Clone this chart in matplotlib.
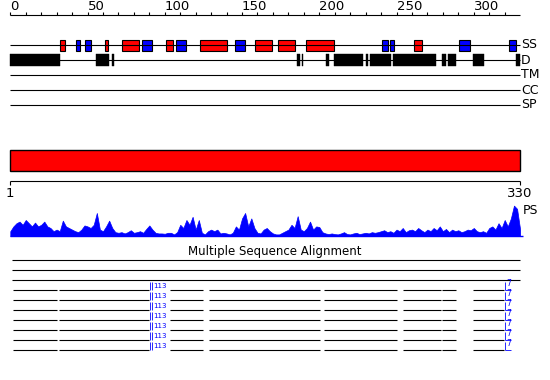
import numpy as np
import matplotlib
matplotlib.use('Agg')
import matplotlib.pyplot as plt
from matplotlib.patches import Rectangle

# sequence / ruler
seq_len = 330
ruler_ticks = list(range(0, 330, 10))
ruler_labels = [0, 50, 100, 150, 200, 250, 300]
track_names = ['SS', 'D', 'TM', 'CC', 'SP']

# secondary structure (residue ranges)
helix_start = [32, 61, 72, 101, 123, 158.5, 173.5, 191.5, 261.5]
helix_end = [35.5, 63, 83, 105.5, 140, 169.5, 184.5, 209.5, 266.5]
strand_start = [42.7, 48.5, 85.5, 107.5, 145.5, 240.8, 245.8, 290.2, 323]
strand_end = [45, 52, 92, 114, 151.7, 244.3, 248.2, 297.5, 327]

# disorder (residue ranges)
dis_start = [0, 55.7, 66, 185.6, 188.6, 204.3, 209.7, 230, 232.8, 247.9, 279.4, 283.5, 299.7, 327]
dis_end = [32, 63.7, 67, 187.5, 189.6, 206, 228.5, 231.3, 246.4, 275.3, 282, 288.3, 306.6, 330]

# PS profile (score 0-1, every 2 residues)
ps_residues = list(range(0, 331, 2))
ps_scores = [0.15, 0.3, 0.4, 0.45, 0.35, 0.5, 0.4, 0.3, 0.42, 0.3,
             0.35, 0.45, 0.3, 0.25, 0.15, 0.2, 0.15, 0.48, 0.3, 0.25,
             0.2, 0.15, 0.12, 0.2, 0.33, 0.3, 0.25, 0.35, 0.72, 0.2,
             0.15, 0.3, 0.48, 0.25, 0.12, 0.1, 0.12, 0.08, 0.12, 0.18,
             0.1, 0.12, 0.15, 0.1, 0.22, 0.33, 0.2, 0.1, 0.08, 0.08,
             0.07, 0.1, 0.1, 0.05, 0.12, 0.35, 0.25, 0.5, 0.35, 0.6,
             0.2, 0.5, 0.1, 0.05, 0.15, 0.2, 0.15, 0.2, 0.08, 0.1,
             0.08, 0.05, 0.1, 0.3, 0.2, 0.55, 0.72, 0.3, 0.55, 0.25,
             0.1, 0.08, 0.2, 0.25, 0.15, 0.08, 0.05, 0.05, 0.1, 0.15,
             0.2, 0.35, 0.25, 0.62, 0.2, 0.15, 0.25, 0.45, 0.2, 0.3,
             0.28, 0.12, 0.08, 0.06, 0.08, 0.06, 0.05, 0.08, 0.12, 0.06,
             0.05, 0.08, 0.1, 0.06, 0.08, 0.1, 0.08, 0.12, 0.1, 0.12,
             0.15, 0.18, 0.12, 0.15, 0.1, 0.2, 0.15, 0.25, 0.12, 0.18,
             0.2, 0.15, 0.25, 0.18, 0.12, 0.2, 0.15, 0.25, 0.18, 0.3,
             0.15, 0.22, 0.12, 0.2, 0.15, 0.18, 0.12, 0.15, 0.2, 0.18,
             0.25, 0.15, 0.12, 0.15, 0.1, 0.25, 0.3, 0.2, 0.4, 0.25,
             0.5, 0.3, 0.55, 0.95, 0.85, 0.2]

# multiple sequence alignment segments
msa_seg_start = [1.5, 31.7, 103.4, 128.8, 203, 254, 279.7, 299.7]
msa_seg_end = [30, 90, 125, 200.5, 250, 278.8, 288.8, 319.6]
msa_rows = 7
insert_pos = [90.5, 320.2]
insert_labels = ['113', '7']

px0 = 10.3
ppr = 1.545  # pixels per residue

fig = plt.figure(figsize=(5.5, 3.8), dpi=100)
ax = fig.add_axes([0, 0, 1, 1])
ax.set_xlim(-px0 / ppr, (550 - px0) / ppr)
ax.set_ylim(380, 0)
ax.axis('off')

lw = 0.8

# top ruler
ax.hlines(15, 0, seq_len, color='black', lw=lw)
ax.vlines(ruler_ticks, 12, 15, color='black', lw=lw)
for t in ruler_labels:
    ax.text(t, 13.5, str(t), ha='left', va='bottom', fontsize=9.5)

# track lines
track_y = [45, 60, 75, 90, 105]
ax.hlines(track_y, 0, seq_len, color='black', lw=lw)
for y, name in zip(track_y, track_names):
    ax.text(seq_len + 0.6, y, name, ha='left', va='center', fontsize=9)

for s, e in zip(helix_start, helix_end):
    ax.add_patch(Rectangle((s, 40), e - s, 10.7, fc='red', ec='black', lw=lw))
for s, e in zip(strand_start, strand_end):
    ax.add_patch(Rectangle((s, 40), e - s, 10.7, fc='blue', ec='black', lw=lw))
for s, e in zip(dis_start, dis_end):
    ax.add_patch(Rectangle((s, 54.3), e - s, 11.7, fc='black', ec='black', lw=0.3))

# domain bar
ax.add_patch(Rectangle((0, 150.3), seq_len, 20.4, fc='red', ec='black', lw=1))
ax.hlines(180.7, 0, seq_len, color='black', lw=lw)
ax.vlines([0, seq_len], 180.7, 185, color='black', lw=lw)
ax.text(0, 200, '1', ha='center', va='bottom', fontsize=9.5)
ax.text(seq_len, 200, '330', ha='center', va='bottom', fontsize=9.5)

# PS profile
ps = np.array(ps_scores)
ax.fill_between(ps_residues, 236, 236 - ps * 32, color='blue', lw=0.5)
ax.hlines(236, 0, seq_len + 2, color='blue', lw=1)
ax.text(seq_len + 1.6, 211, 'PS', ha='left', va='center', fontsize=9)

# MSA
ax.text(171, 251, 'Multiple Sequence Alignment', ha='center', va='center', fontsize=8.5)
ax.hlines([260, 270, 280], 1, seq_len, color='black', lw=lw)
for i in range(msa_rows):
    y = 290 + 10 * i
    ax.hlines([y] * len(msa_seg_start), msa_seg_start, msa_seg_end, color='black', lw=lw)
    # insertion markers
    ax.vlines([insert_pos[0], insert_pos[0] + 1.5], y - 8, y, color='blue', lw=0.6)
    ax.text(insert_pos[0] + 2, y - 1.5, insert_labels[0], color='blue', fontsize=5,
            ha='left', va='bottom')
    ax.vlines(insert_pos[1], y - 8, y, color='blue', lw=0.6)
    ax.hlines(y, insert_pos[1], insert_pos[1] + 4, color='blue', lw=0.6)
    ax.text(insert_pos[1] + 1, y - 1.5, insert_labels[1], color='blue', fontsize=5.5,
            ha='left', va='bottom')

fig.savefig('out.png', dpi=100)
